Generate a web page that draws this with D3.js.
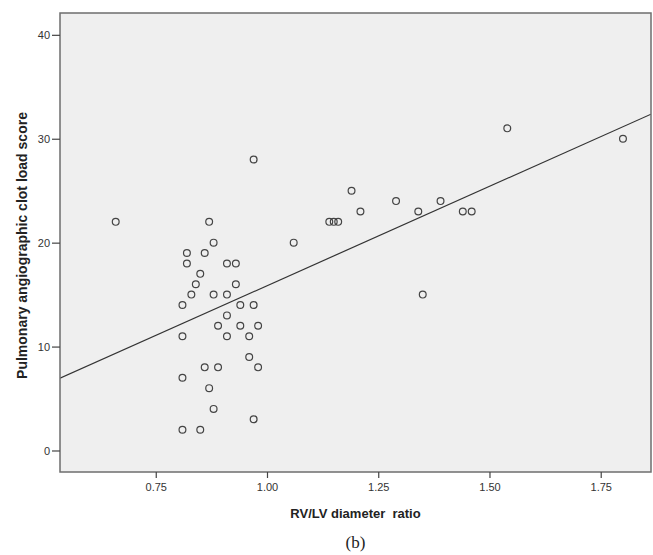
<!DOCTYPE html>
<html>
<head>
<meta charset="utf-8">
<script src="https://cdn.jsdelivr.net/npm/d3@7/dist/d3.min.js"></script>
<style>
  html, body { margin: 0; padding: 0; background: #fff; }
  svg { display: block; }
  text { white-space: pre; }
</style>
</head>
<body>
<svg id="chart" width="653" height="555"></svg>
<script>
// RV/LV diameter ratio (x) and pulmonary angiographic clot load score (y)
const rvlvRatio = [
  0.97, 0.66, 0.87, 0.88, 0.82, 0.86, 0.82, 0.91, 0.93, 0.85,
  0.84, 0.93, 0.83, 0.88, 0.91, 0.81, 0.94, 0.97, 0.91, 0.89,
  0.94, 0.98, 0.81, 0.91, 0.96, 0.96, 0.86, 0.89, 0.98, 0.81,
  0.87, 0.88, 0.97, 0.81, 0.85,
  1.54, 1.80, 1.19, 1.29, 1.39, 1.21, 1.34, 1.44, 1.46, 1.14,
  1.15, 1.16, 1.06, 1.35
];
const clotScore = [
  28, 22, 22, 20, 19, 19, 18, 18, 18, 17,
  16, 16, 15, 15, 15, 14, 14, 14, 13, 12,
  12, 12, 11, 11, 11, 9, 8, 8, 8, 7,
  6, 4, 3, 2, 2,
  31, 30, 25, 24, 24, 23, 23, 23, 23, 22,
  22, 22, 20, 15
];
const xTicks = [0.75, 1.00, 1.25, 1.50, 1.75];
const yTicks = [0, 10, 20, 30, 40];
const xTitle = "RV/LV diameter  ratio";
const yTitle = "Pulmonary angiographic clot load score";
const caption = "(b)";

const svg = d3.select("#chart");
const L = 60, T = 13, R = 651, B = 472;

const x = d3.scaleLinear().domain([0.5348, 1.863]).range([L, R]);
const y = d3.scaleLinear().domain([-2.07, 42.1]).range([B, T]);

// plot background
svg.append("rect")
  .attr("x", L).attr("y", T).attr("width", R - L).attr("height", B - T)
  .attr("fill", "#efefef").attr("stroke", "none");

// fit line (OLS)
const n = rvlvRatio.length;
const mx = d3.mean(rvlvRatio), my = d3.mean(clotScore);
let sxy = 0, sxx = 0;
for (let i = 0; i < n; i++) {
  sxy += (rvlvRatio[i] - mx) * (clotScore[i] - my);
  sxx += (rvlvRatio[i] - mx) ** 2;
}
const slope = sxy / sxx, icpt = my - slope * mx;
const xd = x.domain();

svg.append("defs").append("clipPath").attr("id", "clip")
  .append("rect").attr("x", L).attr("y", T).attr("width", R - L).attr("height", B - T);

svg.append("line")
  .attr("clip-path", "url(#clip)")
  .attr("x1", x(xd[0])).attr("y1", y(icpt + slope * xd[0]))
  .attr("x2", x(xd[1])).attr("y2", y(icpt + slope * xd[1]))
  .attr("stroke", "#333").attr("stroke-width", 1.2);

// points
svg.append("g").selectAll("circle")
  .data(d3.range(n))
  .join("circle")
  .attr("cx", i => x(rvlvRatio[i]))
  .attr("cy", i => y(clotScore[i]))
  .attr("r", 3.4)
  .attr("fill", "none")
  .attr("stroke", "#444")
  .attr("stroke-width", 1.2);

// frame
svg.append("rect")
  .attr("x", L).attr("y", T).attr("width", R - L).attr("height", B - T)
  .attr("fill", "none").attr("stroke", "#6e6e6e").attr("stroke-width", 1.5);

// axes
const xAxis = d3.axisBottom(x).tickValues(xTicks).tickFormat(d3.format(".2f"))
  .tickSize(6).tickSizeOuter(0);
const gx = svg.append("g").attr("transform", `translate(0,${B})`).call(xAxis);
gx.select(".domain").remove();
gx.selectAll(".tick line").attr("stroke", "#444").attr("stroke-width", 1.2);
gx.selectAll(".tick text")
  .attr("font-family", "Liberation Sans, Arial, sans-serif")
  .attr("font-size", 11).attr("fill", "#333").attr("dy", "0.9em");

const yAxis = d3.axisLeft(y).tickValues(yTicks).tickFormat(d3.format("d"))
  .tickSize(8).tickSizeOuter(0);
const gy = svg.append("g").attr("transform", `translate(${L},0)`).call(yAxis);
gy.select(".domain").remove();
gy.selectAll(".tick line").attr("stroke", "#444").attr("stroke-width", 1.2);
gy.selectAll(".tick text")
  .attr("font-family", "Liberation Sans, Arial, sans-serif")
  .attr("font-size", 11).attr("fill", "#333").attr("dx", "0.1em");

// titles
svg.append("text")
  .attr("x", (L + R) / 2).attr("y", 518)
  .attr("text-anchor", "middle")
  .attr("font-family", "Liberation Sans, Arial, sans-serif")
  .attr("font-weight", "bold").attr("font-size", 13).attr("fill", "#222")
  .text(xTitle);

svg.append("text")
  .attr("transform", `translate(27,${(T + B) / 2 + 3}) rotate(-90)`)
  .attr("text-anchor", "middle")
  .attr("font-family", "Liberation Sans, Arial, sans-serif")
  .attr("font-weight", "bold").attr("font-size", 14).attr("fill", "#222")
  .text(yTitle);

svg.append("text")
  .attr("x", (L + R) / 2).attr("y", 548)
  .attr("text-anchor", "middle")
  .attr("font-family", "Liberation Serif, Times New Roman, serif")
  .attr("font-size", 17).attr("fill", "#222")
  .text(caption);
</script>
</body>
</html>
